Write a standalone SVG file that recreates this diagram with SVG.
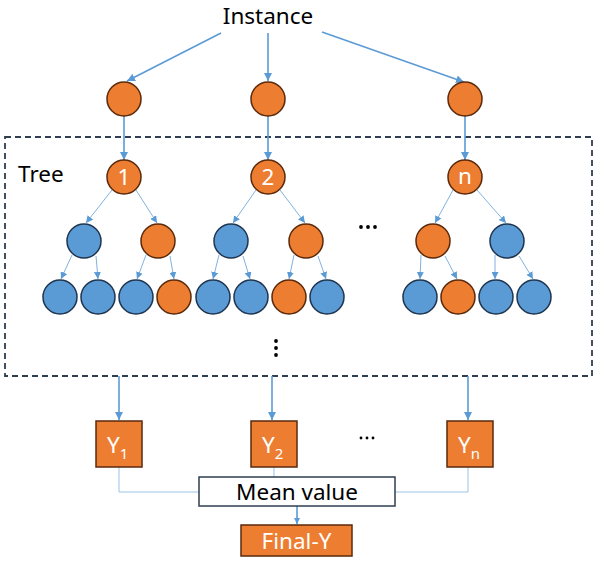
<svg xmlns="http://www.w3.org/2000/svg" width="596" height="563" viewBox="0 0 596 563">
<defs>
<style>
.o{fill:#ED7D31;stroke:#5A2A0C;stroke-width:1.5}
.b{fill:#5B9BD5;stroke:#1F3550;stroke-width:1.5}
.t{font-family:"Noto Sans","Open Sans",sans-serif;font-size:22.5px}
.w{fill:#fff}
.k{fill:#000}
.a1{stroke:#5B9BD5;stroke-width:1.6;fill:none}
.a2{stroke:#7FB2E0;stroke-width:1;fill:none}
.c{stroke:#9DC3E6;stroke-width:1;fill:none}
.box{fill:#ED7D31;stroke:#5A2A0C;stroke-width:1.5}
</style>
<marker id="m1" viewBox="0 0 10 10" refX="10" refY="5" markerWidth="6" markerHeight="6" markerUnits="userSpaceOnUse" orient="auto"><path d="M0,0 L10,5 L0,10 z" fill="#5B9BD5"/></marker>
<marker id="m2" viewBox="0 0 10 10" refX="10" refY="5" markerWidth="7" markerHeight="7" markerUnits="userSpaceOnUse" orient="auto"><path d="M0,0 L10,5 L0,10 z" fill="#5B9BD5"/></marker>
<marker id="m3" viewBox="0 0 10 10" refX="10" refY="5" markerWidth="8" markerHeight="8" markerUnits="userSpaceOnUse" orient="auto"><path d="M0,0 L10,5 L0,10 z" fill="#5B9BD5"/></marker>
</defs>
<rect width="596" height="563" fill="#fff"/>

<g id="tree-frame">
<rect x="5" y="137" width="587" height="239" fill="none" stroke="#2F3E50" stroke-width="1.8" stroke-dasharray="6,4"/>
<text class="t k" x="18" y="182">Tree</text>
</g>

<g id="connectors">
<line class="a1" x1="221" y1="33" x2="127" y2="81" marker-end="url(#m3)"/>
<line class="a1" x1="268" y1="33" x2="268" y2="81" marker-end="url(#m3)"/>
<line class="a1" x1="322" y1="32" x2="464" y2="82" marker-end="url(#m3)"/>
<line class="a1" x1="124" y1="116" x2="124" y2="160" marker-end="url(#m3)"/>
<line class="a1" x1="268" y1="116" x2="268" y2="160" marker-end="url(#m3)"/>
<line class="a1" x1="465" y1="116" x2="465" y2="160" marker-end="url(#m3)"/>
<!-- level 2 -->
<line class="a2" x1="112" y1="190" x2="86" y2="223" marker-end="url(#m2)"/>
<line class="a2" x1="136" y1="190" x2="157" y2="223" marker-end="url(#m2)"/>
<line class="a2" x1="256" y1="190" x2="233" y2="223" marker-end="url(#m2)"/>
<line class="a2" x1="280" y1="190" x2="305" y2="223" marker-end="url(#m2)"/>
<line class="a2" x1="453" y1="190" x2="435" y2="223" marker-end="url(#m2)"/>
<line class="a2" x1="477" y1="190" x2="506" y2="223" marker-end="url(#m2)"/>
<!-- level 3 -->
<line class="a2" x1="72" y1="255" x2="61" y2="279" marker-end="url(#m2)"/>
<line class="a2" x1="96" y1="256" x2="98" y2="279" marker-end="url(#m2)"/>
<line class="a2" x1="146" y1="255" x2="137" y2="279" marker-end="url(#m2)"/>
<line class="a2" x1="170" y1="256" x2="174" y2="279" marker-end="url(#m2)"/>
<line class="a2" x1="219" y1="255" x2="213" y2="279" marker-end="url(#m2)"/>
<line class="a2" x1="243" y1="256" x2="250" y2="279" marker-end="url(#m2)"/>
<line class="a2" x1="294" y1="255" x2="289" y2="279" marker-end="url(#m2)"/>
<line class="a2" x1="318" y1="256" x2="326" y2="279" marker-end="url(#m2)"/>
<line class="a2" x1="421" y1="255" x2="420" y2="279" marker-end="url(#m2)"/>
<line class="a2" x1="445" y1="256" x2="457" y2="279" marker-end="url(#m2)"/>
<line class="a2" x1="495" y1="255" x2="495" y2="279" marker-end="url(#m2)"/>
<line class="a2" x1="519" y1="256" x2="533" y2="279" marker-end="url(#m2)"/>
<!-- outputs -->
<line class="a1" x1="119" y1="376" x2="119" y2="420" marker-end="url(#m3)"/>
<line class="a1" x1="272" y1="376" x2="272" y2="420" marker-end="url(#m3)"/>
<line class="a1" x1="468" y1="376" x2="468" y2="420" marker-end="url(#m3)"/>
<polyline class="c" points="119,467 119,492 199,492"/>
<polyline class="c" points="468,467 468,492 395,492"/>
<line class="c" x1="274" y1="467" x2="274" y2="477"/>
<line class="a1" x1="297" y1="506" x2="297" y2="524" stroke-width="1" marker-end="url(#m1)"/>
</g>

<g id="instance"><text class="t k" x="268" y="24" font-size="22" text-anchor="middle">Instance</text></g>

<g id="top1"><circle class="o" cx="124" cy="99" r="17"/></g>
<g id="top2"><circle class="o" cx="268" cy="99" r="17"/></g>
<g id="topn"><circle class="o" cx="465" cy="99" r="17"/></g>

<g id="root1"><circle class="o" cx="124" cy="177" r="17"/><text class="t w" x="124" y="185" text-anchor="middle">1</text></g>
<g id="root2"><circle class="o" cx="268" cy="177" r="17"/><text class="t w" x="268" y="185" text-anchor="middle">2</text></g>
<g id="rootn"><circle class="o" cx="465" cy="177" r="17"/><text class="t w" x="465" y="184" text-anchor="middle">n</text></g>

<g id="l2-1a"><circle class="b" cx="84" cy="241" r="17"/></g>
<g id="l2-1b"><circle class="o" cx="158" cy="241" r="17"/></g>
<g id="l2-2a"><circle class="b" cx="231" cy="241" r="17"/></g>
<g id="l2-2b"><circle class="o" cx="306" cy="241" r="17"/></g>
<g id="l2-na"><circle class="o" cx="433" cy="241" r="17"/></g>
<g id="l2-nb"><circle class="b" cx="507" cy="241" r="17"/></g>

<g id="l3-1"><circle class="b" cx="60" cy="297" r="17"/><circle class="b" cx="98" cy="297" r="17"/><circle class="b" cx="136" cy="297" r="17"/><circle class="o" cx="174" cy="297" r="17"/></g>
<g id="l3-2"><circle class="b" cx="213" cy="297" r="17"/><circle class="b" cx="251" cy="297" r="17"/><circle class="o" cx="289" cy="297" r="17"/><circle class="b" cx="327" cy="297" r="17"/></g>
<g id="l3-n"><circle class="b" cx="420" cy="297" r="17"/><circle class="o" cx="458" cy="297" r="17"/><circle class="b" cx="496" cy="297" r="17"/><circle class="b" cx="534" cy="297" r="17"/></g>

<g id="dots">
<circle cx="361" cy="227" r="1.9"/><circle cx="368" cy="227" r="1.9"/><circle cx="375" cy="227" r="1.9"/>
<circle cx="276" cy="341" r="1.9"/><circle cx="276" cy="348" r="1.9"/><circle cx="276" cy="355" r="1.9"/>
<circle cx="361" cy="438" r="1.4"/><circle cx="367" cy="438" r="1.4"/><circle cx="373" cy="438" r="1.4"/>
</g>

<g id="y1"><rect class="box" x="96" y="421" width="46" height="46"/><text class="t w" x="107" y="453">Y<tspan font-size="15" dy="6">1</tspan></text></g>
<g id="y2"><rect class="box" x="251" y="421" width="46" height="46"/><text class="t w" x="262" y="453">Y<tspan font-size="15" dy="6">2</tspan></text></g>
<g id="yn"><rect class="box" x="447" y="421" width="46" height="46"/><text class="t w" x="458" y="453">Y<tspan font-size="15" dy="6">n</tspan></text></g>

<g id="mean"><rect x="199" y="477" width="196" height="29" fill="#fff" stroke="#2F3E50" stroke-width="1.5"/><text class="t k" x="297" y="499.5" text-anchor="middle">Mean value</text></g>
<g id="final"><rect class="box" x="241" y="525" width="111" height="31"/><text class="t w" x="296.5" y="549" text-anchor="middle">Final-Y</text></g>
</svg>
